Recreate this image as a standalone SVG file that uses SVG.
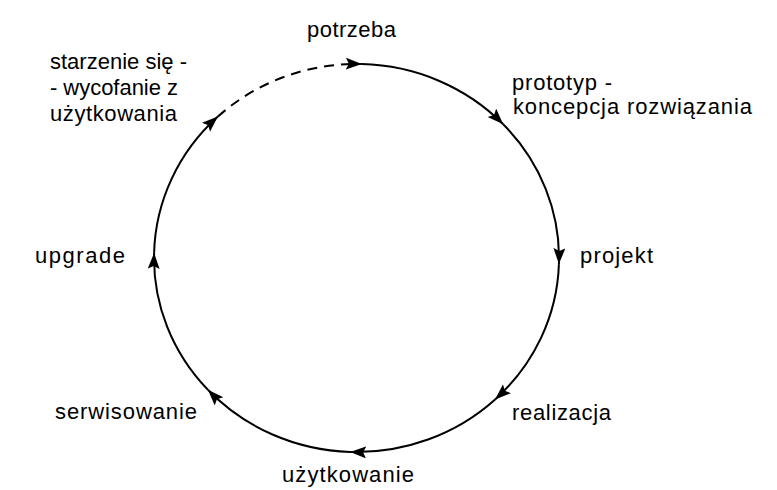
<svg xmlns="http://www.w3.org/2000/svg" width="777" height="490" viewBox="0 0 777 490">
<style>
.lbl{font-family:"Liberation Sans",Arial,sans-serif;font-size:22px;fill:#000;}
.arc{fill:none;stroke:#000;stroke-width:2;marker-end:url(#ah);}
.dash{stroke-dasharray:10 7;}
</style>
<defs>
<marker id="ah" markerUnits="userSpaceOnUse" markerWidth="18" markerHeight="14" refX="16" refY="6" orient="auto" viewBox="0 0 18 14">
<path d="M0,0 L16,6 L0,12 L3,6 z" fill="#000"/>
</marker>
</defs>
<rect width="777" height="490" fill="#fff"/>
<g id="connectors">
<path class="arc dash" d="M217.9,116.6 A202.5,194 0 0 1 361.8,64.1"/>
<path class="arc" d="M361.8,64.1 A202.5,194 0 0 1 503.2,124.2"/>
<path class="arc" d="M503.2,124.2 A202.5,194 0 0 1 558.9,264.1"/>
<path class="arc" d="M558.9,264.1 A202.5,194 0 0 1 495.1,399.4"/>
<path class="arc" d="M495.1,399.4 A202.5,194 0 0 1 350.1,451.9"/>
<path class="arc" d="M350.1,451.9 A202.5,194 0 0 1 207.9,389.8"/>
<path class="arc" d="M207.9,389.8 A202.5,194 0 0 1 154.1,252.9"/>
<path class="arc" d="M154.1,252.9 A202.5,194 0 0 1 217.9,116.6"/>
</g>
<g id="potrzeba"><text class="lbl" x="307" y="37" textLength="89" lengthAdjust="spacing">potrzeba</text></g>
<g id="prototyp">
<text class="lbl" x="512" y="90" textLength="100" lengthAdjust="spacing">prototyp -</text>
<text class="lbl" x="513" y="114" textLength="239" lengthAdjust="spacing">koncepcja rozwiązania</text>
</g>
<g id="projekt"><text class="lbl" x="580" y="263" textLength="73" lengthAdjust="spacing">projekt</text></g>
<g id="realizacja"><text class="lbl" x="512" y="420" textLength="99" lengthAdjust="spacing">realizacja</text></g>
<g id="uzytkowanie"><text class="lbl" x="282" y="482" textLength="132" lengthAdjust="spacing">użytkowanie</text></g>
<g id="serwisowanie"><text class="lbl" x="55" y="419" textLength="142" lengthAdjust="spacing">serwisowanie</text></g>
<g id="upgrade"><text class="lbl" x="35" y="263" textLength="90" lengthAdjust="spacing">upgrade</text></g>
<g id="starzenie">
<text class="lbl" x="50" y="69" textLength="137" lengthAdjust="spacing">starzenie się -</text>
<text class="lbl" x="50" y="95" textLength="128" lengthAdjust="spacing">- wycofanie z</text>
<text class="lbl" x="50" y="121" textLength="127" lengthAdjust="spacing">użytkowania</text>
</g>
</svg>
